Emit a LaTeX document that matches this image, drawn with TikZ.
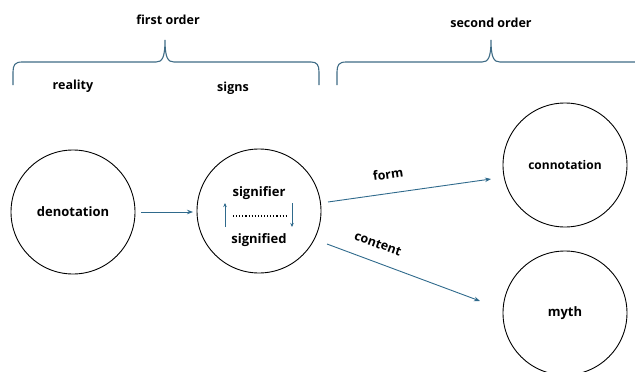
\documentclass[tikz,border=0pt]{standalone}
\usepackage{fontspec}
\setmainfont{Open Sans}
\usetikzlibrary{arrows.meta}
\definecolor{teal1}{HTML}{2F6A8C}
\definecolor{brace1}{HTML}{3F6C86}
\tikzset{
  circ/.style={circle,draw=black,line width=0.9pt,minimum size=124pt,inner sep=0pt,font=\fontsize{13}{15}\selectfont\bfseries},
  lbl/.style={font=\fontsize{12.5}{15}\selectfont\bfseries,inner sep=0pt},
  arr/.style={draw=teal1,line width=0.9pt,-{Stealth[length=6pt,width=4.5pt]}},
  brc/.style={draw=brace1,line width=1.1pt},
}
\begin{document}
\begin{tikzpicture}[x=1pt,y=-1pt]
\useasboundingbox (0,0) rectangle (635,372);
\clip (0,0) rectangle (635,372);
% braces
\draw[brc] (13,85) -- (13,72) .. controls (13,65) and (15,62) .. (22,62) -- (156,62) .. controls (162,62) and (165,58) .. (165,40) .. controls (165,58) and (168,62) .. (174,62) -- (311,62) .. controls (317,62) and (319,65) .. (319,72) -- (319,85);
\draw[brc] (337,85) -- (337,72) .. controls (337,65) and (339,62) .. (346,62) -- (482,62) .. controls (488,62) and (491,58) .. (491,40) .. controls (491,58) and (494,62) .. (500,62) -- (640,62);
\node[lbl] (fo) at (168,20) {first order};
\node[lbl] (so) at (491,23) {second order};
\node[lbl] (re) at (73,86) {reality};
\node[lbl] (sg) at (233,88) {signs};
% circles
\node[circ] (den) at (73,212) {denotation};
\node[circ] (sig) at (259,211) {};
\node[circ,font=\fontsize{12}{14}\selectfont\bfseries] (con) at (565,165) {connotation};
\node[circ] (myth) at (565,313) {myth};
% inside sign
\node[lbl,font=\fontsize{13}{15}\selectfont\bfseries] (sfr) at (259,193) {signifier};
\node[lbl,font=\fontsize{13}{15}\selectfont\bfseries] (sfd) at (259,240) {signified};
\coordinate (dl) at (233,216);
\coordinate (dr) at (286,216);
\draw[line width=1.1pt,dotted] (dl) -- (dr);
\coordinate (ua) at (225,227);
\coordinate (ub) at (225,203);
\coordinate (da) at (292,203);
\coordinate (db) at (292,227);
\draw[draw=teal1,line width=0.9pt,-{Stealth[length=4pt,width=3.5pt]}] (ua) -- (ub);
\draw[draw=teal1,line width=0.9pt,-{Stealth[length=4pt,width=3.5pt]}] (da) -- (db);
% connectors
\coordinate (a1) at (141,212);
\coordinate (a2) at (193,212);
\draw[arr] (a1) -- (a2);
\coordinate (f1) at (328,202);
\coordinate (f2) at (491,179);
\draw[arr] (f1) -- (f2);
\coordinate (c1) at (327,244);
\coordinate (c2) at (480,301);
\draw[arr] (c1) -- (c2);
\node[lbl,rotate=8] (fl) at (388,174) {form};
\node[lbl,rotate=-20] (cl) at (378,244) {content};
\end{tikzpicture}
\end{document}
